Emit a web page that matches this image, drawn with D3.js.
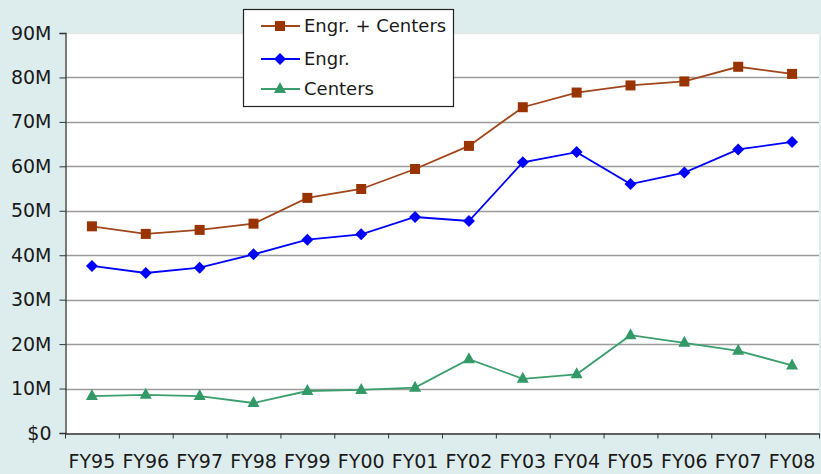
<!DOCTYPE html>
<html>
<head>
<meta charset="utf-8">
<script src="https://cdn.jsdelivr.net/npm/d3@7"></script>
<style>
  html, body { margin: 0; padding: 0; background: #DDEDED; }
  svg { display: block; }
  text { font-family: "DejaVu Sans", Verdana, sans-serif; fill: #1a1a1a; }
</style>
</head>
<body>
<svg id="chart" width="821" height="474"></svg>
<script>
const categories = ["FY95","FY96","FY97","FY98","FY99","FY00","FY01","FY02","FY03","FY04","FY05","FY06","FY07","FY08"];
const engrCenters = [46.5, 44.8, 45.7, 47.1, 52.9, 54.9, 59.4, 64.6, 73.3, 76.6, 78.2, 79.1, 82.4, 80.8];
const engr        = [37.6, 36.0, 37.2, 40.2, 43.5, 44.7, 48.6, 47.7, 60.9, 63.2, 56.0, 58.6, 63.8, 65.5];
const centers     = [8.3, 8.6, 8.3, 6.75, 9.45, 9.7, 10.2, 16.6, 12.2, 13.2, 22.0, 20.3, 18.5, 15.2];
const yTicks = [0, 10, 20, 30, 40, 50, 60, 70, 80, 90];
const yTickLabels = ["$0","10M","20M","30M","40M","50M","60M","70M","80M","90M"];
const seriesNames = ["Engr. + Centers", "Engr.", "Centers"];

const svg = d3.select("#chart");
const pLeft = 65, pRight = 819, pTop = 33, pBottom = 433;

const x = d3.scaleBand().domain(categories).range([pLeft, pRight]).padding(0);
const y = d3.scaleLinear().domain([0, 90]).range([pBottom, pTop]);

// plot area
svg.append("rect").attr("x", pLeft).attr("y", pTop).attr("width", pRight - pLeft).attr("height", pBottom - pTop).attr("fill", "#fff");

// gridlines
svg.append("g").selectAll("line").data(yTicks.filter(d => d > 0)).join("line")
  .attr("x1", pLeft).attr("x2", pRight)
  .attr("y1", d => Math.round(y(d)) + 0.5).attr("y2", d => Math.round(y(d)) + 0.5)
  .attr("stroke", d => d === 90 ? "#e6e6e6" : "#9a9a9a").attr("stroke-width", 1.3);

// y axis
const yAxis = d3.axisLeft(y).tickValues(yTicks).tickFormat((d, i) => yTickLabels[i]).tickSize(6).tickPadding(8);
const gy = svg.append("g").attr("transform", `translate(${pLeft + 0.5},0)`).call(yAxis);
gy.select(".domain").attr("stroke", "#333").attr("stroke-width", 1.3);
gy.selectAll(".tick line").attr("stroke", "#333");
gy.selectAll(".tick text").style("font-size", "19px").style("font-family", "'DejaVu Sans', Verdana, sans-serif").attr("fill", "#1a1a1a");

// x axis (ticks at band edges, labels at centres)
const xEdge = d3.scaleLinear().domain([0, categories.length]).range([pLeft, pRight]);
const xAxis = d3.axisBottom(xEdge).tickValues(d3.range(categories.length + 1)).tickFormat("").tickSize(5).tickSizeOuter(0);
const gx = svg.append("g").attr("transform", `translate(0,${pBottom + 0.5})`).call(xAxis);
gx.select(".domain").attr("stroke", "#333").attr("stroke-width", 1.3);
gx.selectAll(".tick line").attr("stroke", "#333");
svg.append("g").selectAll("text").data(categories).join("text")
  .attr("x", d => x(d) + x.bandwidth() / 2).attr("y", 468)
  .attr("text-anchor", "middle").style("font-size", "19px").text(d => d);

const cx = d => x(d) + x.bandwidth() / 2;
const line = vals => d3.line().x((d, i) => cx(categories[i])).y(d => y(d))(vals);

const series = [
  { name: seriesNames[0], values: engrCenters, stroke: "#A0461A", fill: "#993300", shape: "square" },
  { name: seriesNames[1], values: engr, stroke: "#0000FF", fill: "#0000FF", shape: "diamond" },
  { name: seriesNames[2], values: centers, stroke: "#3A9E6E", fill: "#339966", shape: "triangle" }
];

function marker(g, shape, px, py, color) {
  if (shape === "square") {
    g.append("rect").attr("x", px - 5).attr("y", py - 5).attr("width", 10).attr("height", 10).attr("fill", color);
  } else if (shape === "diamond") {
    g.append("path").attr("d", `M${px},${py - 6}L${px + 6},${py}L${px},${py + 6}L${px - 6},${py}Z`).attr("fill", color);
  } else {
    g.append("path").attr("d", `M${px},${py - 7}L${px + 6},${py + 4}L${px - 6},${py + 4}Z`).attr("fill", color);
  }
}

[series[2], series[1], series[0]].forEach(s => {
  const g = svg.append("g");
  g.append("path").attr("d", line(s.values)).attr("fill", "none").attr("stroke", s.stroke).attr("stroke-width", 1.8);
  s.values.forEach((v, i) => marker(g, s.shape, cx(categories[i]), y(v), s.fill));
});

// legend
const lg = svg.append("g");
lg.append("rect").attr("x", 243.5).attr("y", 9.5).attr("width", 210).attr("height", 97)
  .attr("fill", "#fff").attr("stroke", "#222").attr("stroke-width", 1.2);
const rowY = [26, 59, 89];
series.forEach((s, i) => {
  lg.append("line").attr("x1", 261).attr("x2", 300).attr("y1", rowY[i]).attr("y2", rowY[i])
    .attr("stroke", s.stroke).attr("stroke-width", 1.8);
  marker(lg, s.shape, 280, rowY[i], s.fill);
  lg.append("text").attr("x", 304).attr("y", rowY[i]).attr("dy", "0.36em")
    .style("font-size", "18px").text(s.name);
});
</script>
</body>
</html>
